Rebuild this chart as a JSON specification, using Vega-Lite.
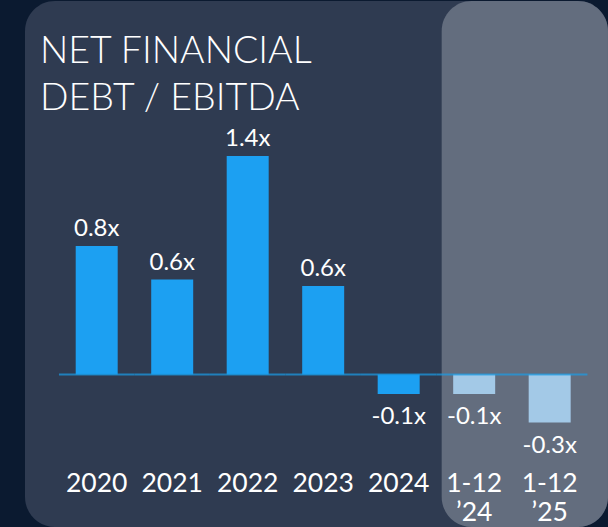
{
  "$schema": "https://vega.github.io/schema/vega-lite/v6.json",
  "width": 583,
  "height": 526,
  "autosize": {"type": "none"},
  "padding": {"left": 25, "top": 1, "right": 0, "bottom": 0},
  "background": "#0b1a30",
  "view": {"fill": "#2f3b51", "stroke": null, "cornerRadius": 30},
  "title": {
    "text": ["NET FINANCIAL", "DEBT / EBITDA"],
    "anchor": "start",
    "frame": "group",
    "orient": "top",
    "baseline": "top",
    "offset": -116,
    "dx": 15,
    "font": "Lato",
    "fontSize": 37.5,
    "fontWeight": 300,
    "lineHeight": 47,
    "color": "#ffffff"
  },
  "resolve": {"axis": {"x": "independent", "y": "independent"}},
  "data": {
    "values": [
      {"period": "2020", "value": 0.826, "label": "0.8x", "kind": "year"},
      {"period": "2021", "value": 0.61, "label": "0.6x", "kind": "year"},
      {"period": "2022", "value": 1.404, "label": "1.4x", "kind": "year"},
      {"period": "2023", "value": 0.569, "label": "0.6x", "kind": "year"},
      {"period": "2024", "value": -0.125, "label": "-0.1x", "kind": "year"},
      {"period": "1-12 ’24", "value": -0.125, "label": "-0.1x", "kind": "ltm"},
      {"period": "1-12 ’25", "value": -0.309, "label": "-0.3x", "kind": "ltm"}
    ]
  },
  "layer": [
    {
      "transform": [{"filter": "datum.kind === 'ltm' && datum.value > -0.2"}],
      "mark": {"type": "rect", "color": "#636d7e", "cornerRadius": 30},
      "encoding": {
        "x": {"datum": "1-12 ’24", "type": "nominal", "bandPosition": -0.274, "axis": null},
        "x2": {"datum": "1-12 ’25", "bandPosition": 1.888},
        "y": {"datum": 2.4, "type": "quantitative", "axis": null},
        "y2": {"datum": -0.98}
      }
    },
    {
      "mark": {"type": "bar"},
      "encoding": {
        "x": {
          "field": "period",
          "type": "nominal",
          "scale": {
            "domain": ["2020", "2021", "2022", "2023", "2024", "1-12 ’24", "1-12 ’25"],
            "paddingInner": 0.4437, "paddingOuter": 0.583, "align": 0.576
          },
          "axis": {
            "orient": "bottom",
            "offset": -57,
            "zindex": 1,
            "labelAngle": 0,
            "domain": false,
            "ticks": false,
            "grid": false,
            "labelPadding": 0,
            "labelFont": "Lato",
            "labelFontSize": 26.5,
            "labelColor": "#ffffff",
            "labelLineHeight": 29,
            "labelBaseline": "top",
            "labelExpr": "split(datum.label, ' ')",
            "title": null
          }
        },
        "y": {
          "field": "value",
          "type": "quantitative",
          "scale": {"domain": [-0.98, 2.4], "nice": false, "zero": false},
          "axis": null
        },
        "color": {
          "field": "kind",
          "type": "nominal",
          "scale": {"domain": ["year", "ltm"], "range": ["#1ca0f2", "#a3c9e7"]},
          "legend": null
        }
      }
    },
    {
      "mark": {"type": "tick", "color": "#1a9ee8", "size": 75.5, "thickness": 2},
      "encoding": {
        "x": {"field": "period", "type": "nominal", "axis": null},
        "y": {"datum": 0, "type": "quantitative", "axis": null}
      }
    },
    {
      "transform": [{"filter": "datum.value > 0"}],
      "mark": {"type": "text", "color": "#ffffff", "font": "Lato", "fontSize": 24, "baseline": "alphabetic", "dy": -10},
      "encoding": {
        "x": {"field": "period", "type": "nominal", "axis": null},
        "y": {"field": "value", "type": "quantitative", "axis": null},
        "text": {"field": "label"}
      }
    },
    {
      "transform": [{"filter": "datum.value < 0"}],
      "mark": {"type": "text", "color": "#ffffff", "font": "Lato", "fontSize": 24, "baseline": "alphabetic", "dy": 30},
      "encoding": {
        "x": {"field": "period", "type": "nominal", "axis": null},
        "y": {"field": "value", "type": "quantitative", "axis": null},
        "text": {"field": "label"}
      }
    }
  ]
}
